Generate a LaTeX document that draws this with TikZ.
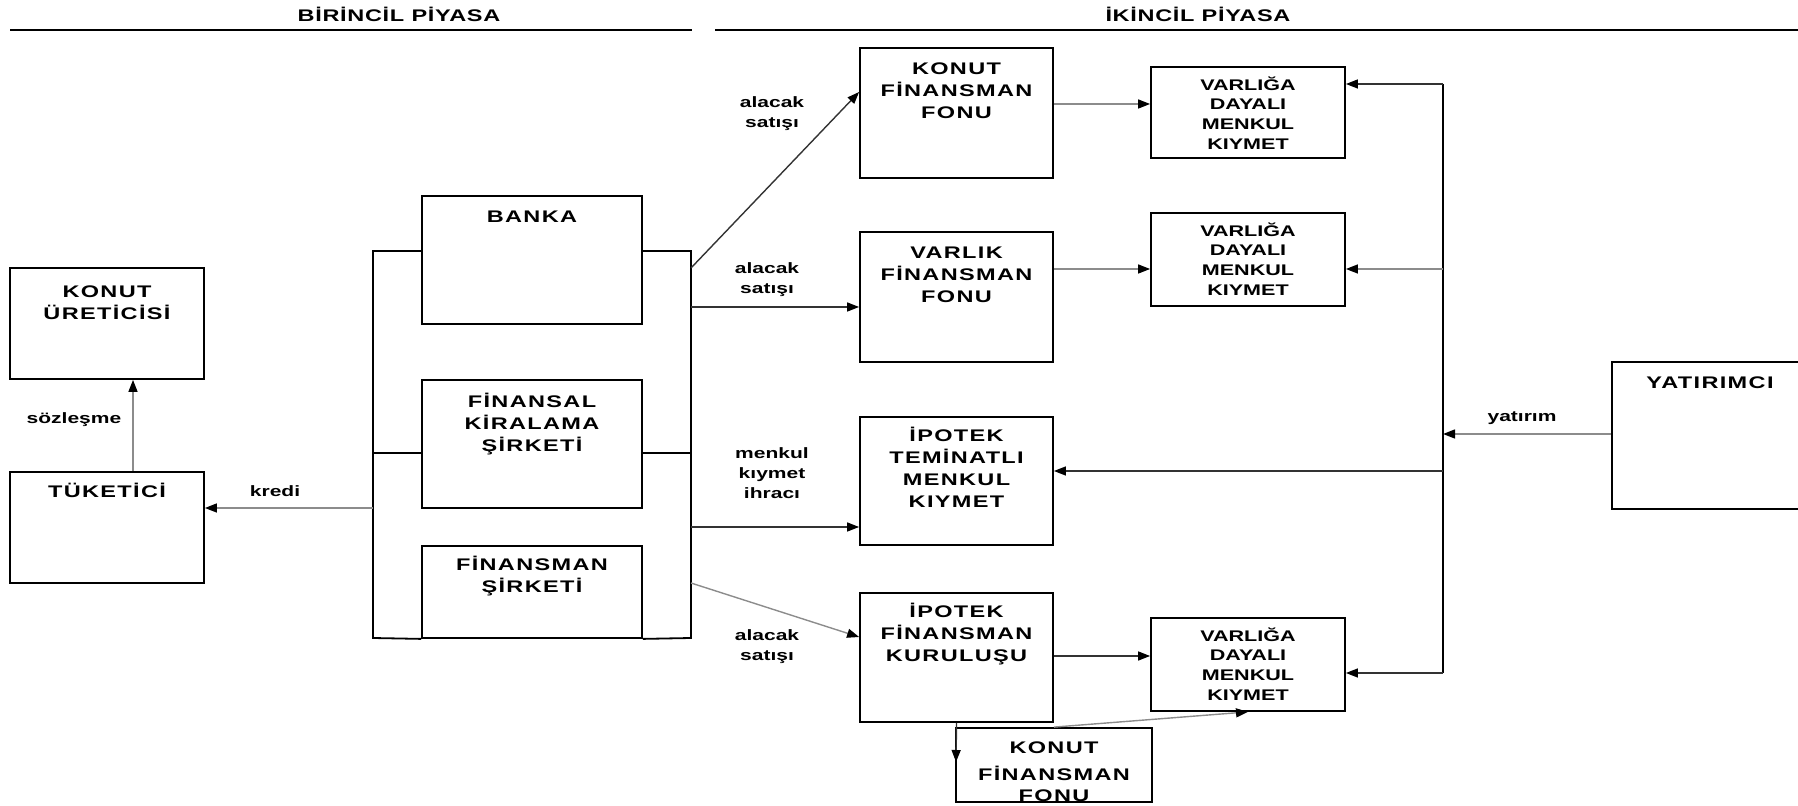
\documentclass[tikz,border=0pt]{standalone}
\usepackage{fontspec}
\setmainfont{Liberation Sans}[FakeStretch=1.4]
\usetikzlibrary{arrows.meta}

\begin{document}
\begin{tikzpicture}[x=0.5pt, y=-0.5pt,
    box/.style={draw, line width=0.9pt, inner sep=0pt},
    ttl/.style={anchor=north, inner sep=0pt, yshift=-7.5pt, align=center,
      font=\bfseries\fontsize{8.4}{11}\selectfont\addfontfeature{LetterSpace=8}},
    vttl/.style={ttl, yshift=2.5pt, font=\bfseries\fontsize{7.7}{9.9}\selectfont},
    lbl/.style={align=center, inner sep=0pt, font=\bfseries\fontsize{7.5}{10}\selectfont},
    hd/.style={lbl, font=\bfseries\fontsize{8.4}{10}\selectfont\addfontfeature{LetterSpace=4}},
    brk/.style={line width=0.9pt},
    conn/.style={line width=0.7pt, draw=black!80},
    pale/.style={conn, draw=black!45},
    >={Triangle[length=6pt, width=4.5pt, color=black]}]
  \useasboundingbox (0,0) rectangle (1798,806);
  \clip (0,0) rectangle (1798,806);

  % headers
  \node[hd] (hd1) at (399,14) {BİRİNCİL PİYASA};
  \node[hd] (hd2) at (1198,14) {İKİNCİL PİYASA};
  \draw[brk] (10,30) -- (692,30);
  \draw[brk] (715,30) -- (1798,30);

  % primary market
  \node[box, minimum width=97pt, minimum height=55.5pt,
    label={[ttl, yshift=-1.5pt]north:{KONUT\\ÜRETİCİSİ}}] (ku) at (107,323.5) {};
  \node[box, minimum width=97pt, minimum height=55.5pt,
    label={[ttl, yshift=1.5pt]north:{TÜKETİCİ}}] (tk) at (107,527.5) {};
  \node[box, minimum width=110pt, minimum height=64pt,
    label={[ttl]north:{BANKA}}] (bnk) at (532,260) {};
  \node[box, minimum width=110pt, minimum height=64pt,
    label={[ttl, yshift=0.7pt]north:{FİNANSAL\\KİRALAMA\\ŞİRKETİ}}] (fks) at (532,444) {};
  \node[box, minimum width=110pt, minimum height=46pt,
    label={[ttl, yshift=2.2pt]north:{FİNANSMAN\\ŞİRKETİ}}] (fs) at (532,592) {};

  % secondary market
  \node[box, minimum width=96.5pt, minimum height=65pt,
    label={[ttl]north:{KONUT\\FİNANSMAN\\FONU}}] (kff) at (956.5,113) {};
  \node[box, minimum width=96.5pt, minimum height=65pt,
    label={[ttl]north:{VARLIK\\FİNANSMAN\\FONU}}] (vff) at (956.5,297) {};
  \node[box, minimum width=96.5pt, minimum height=64pt,
    label={[ttl, yshift=2.2pt]north:{İPOTEK\\TEMİNATLI\\MENKUL\\KIYMET}}] (itmk) at (956.5,481) {};
  \node[box, minimum width=96.5pt, minimum height=64.5pt,
    label={[ttl, yshift=2.2pt]north:{İPOTEK\\FİNANSMAN\\KURULUŞU}}] (ifk) at (956.5,657.5) {};
  \node[box, minimum width=98pt, minimum height=37pt,
    label={[ttl, yshift=0.5pt, font=\bfseries\fontsize{8.4}{10.3}\selectfont\addfontfeature{LetterSpace=8}]north:{KONUT\\[3.5pt]FİNANSMAN\\FONU}}] (kff2) at (1054,765) {};
  \node[box, minimum width=97pt, minimum height=45.5pt,
    label={[vttl]north:{VARLIĞA\\DAYALI\\MENKUL\\KIYMET}}] (v1) at (1248,112.5) {};
  \node[box, minimum width=97pt, minimum height=46.5pt,
    label={[vttl]north:{VARLIĞA\\DAYALI\\MENKUL\\KIYMET}}] (v2) at (1248,259.5) {};
  \node[box, minimum width=97pt, minimum height=46.5pt,
    label={[vttl]north:{VARLIĞA\\DAYALI\\MENKUL\\KIYMET}}] (v3) at (1248,664.5) {};
  \node[box, minimum width=98pt, minimum height=73.5pt,
    label={[ttl]north:{YATIRIMCI}}] (yat) at (1710,435.5) {};

  % brackets round the lenders
  \coordinate (lt) at (373,251); \coordinate (lb) at (373,638);
  \coordinate (rt) at (691,251); \coordinate (rb) at (691,638);
  \draw[brk] (bnk.west |- lt) -- (lt) -- (lb) -- (fs.south west);
  \draw[brk] (fks.west |- 0,453) -- (lt |- 0,453);
  \draw[brk] (bnk.east |- rt) -- (rt) -- (rb) -- (fs.south east);
  \draw[brk] (fks.east |- 0,453) -- (rt |- 0,453);

  % primary flows
  \coordinate (kr) at (373,508);
  \draw[pale,->] (kr) -- (tk.east |- kr);
  \draw[pale,->] (tk.north -| 133,0) -- (ku.south -| 133,0);
  \node[lbl] (lsoz) at (74,420) {sözleşme};
  \node[lbl] (lkre) at (275,491) {kredi};

  % sales to the secondary market
  \coordinate (o1) at (691,268); \coordinate (o2) at (691,307);
  \coordinate (o3) at (691,527); \coordinate (o4) at (691,583);
  \draw[conn,->] (o1) -- (kff.west |- 0,92);
  \draw[conn,->] (o2) -- (vff.west |- o2);
  \draw[conn,->] (o3) -- (itmk.west |- o3);
  \draw[pale,->] (o4) -- (ifk.west |- 0,637);
  \node[lbl] (lal1) at (772,114) {alacak\\satışı};
  \node[lbl] (lal2) at (767,280) {alacak\\satışı};
  \node[lbl] (lmk) at (772,473) {menkul\\kıymet\\ihracı};
  \node[lbl] (lal3) at (767,647) {alacak\\satışı};

  % issuing
  \draw[pale,->] (kff.east |- 0,104) -- (v1.west |- 0,104);
  \draw[pale,->] (vff.east |- 0,269) -- (v2.west |- 0,269);
  \draw[conn,->] (ifk.east |- 0,656) -- (v3.west |- 0,656);
  \coordinate (dn) at (956,762);
  \draw[conn,->] (ifk.south) -- (dn);
  \draw[pale,->] (kff2.north) -- (v3.south);

  % investor side
  \coordinate (b1) at (1443,84); \coordinate (b4) at (1443,673);
  \draw[brk] (b1) -- (b4);
  \draw[conn,->] (b1) -- (v1.east |- b1);
  \draw[pale,->] (b1 |- 0,269) -- (v2.east |- 0,269);
  \draw[conn,->] (b1 |- 0,471) -- (itmk.east |- 0,471);
  \draw[conn,->] (b4) -- (v3.east |- b4);
  \draw[pale,->] (yat.west |- 0,434) -- (b1 |- 0,434);
  \node[lbl] (lyat) at (1522,418) {yatırım};
\end{tikzpicture}
\end{document}
